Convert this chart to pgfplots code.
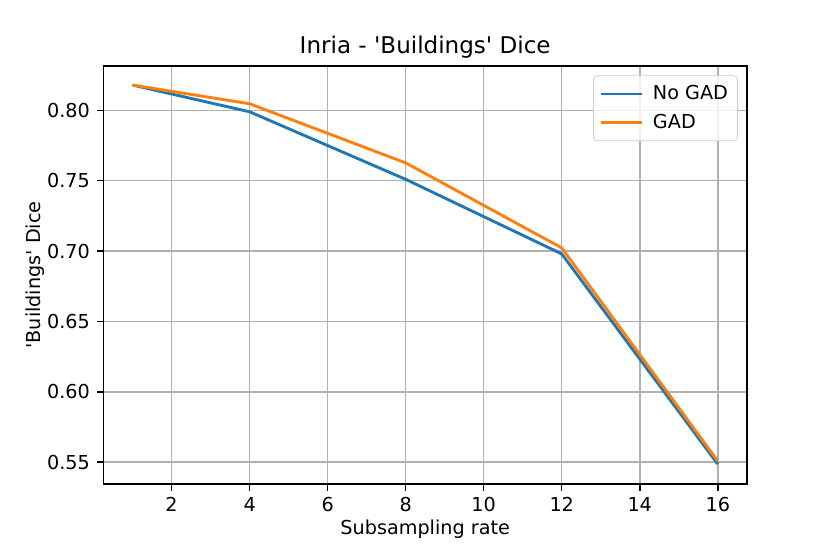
\documentclass[border=0pt]{standalone}
\usepackage{fontspec}
\setmainfont{DejaVu Sans}[Ligatures=TeXOff]
\usepackage{pgfplots}
\pgfplotsset{compat=1.18}
\definecolor{mplblue}{HTML}{1F77B4}
\definecolor{mplorange}{HTML}{FF7F0E}
\definecolor{gridgray}{HTML}{B0B0B0}
\begin{document}
\begin{tikzpicture}
\useasboundingbox (-53.8pt,-36.4pt) rectangle (378.4pt,252pt);
\begin{axis}[
  at={(0,0)}, anchor=south west,
  scale only axis, width=335.2pt, height=217.6pt,
  xmin=0.25, xmax=16.75, ymin=0.5345, ymax=0.8315,
  xtick={2,4,...,16},
  ytick={0.55,0.60,...,0.801},
  yticklabel style={/pgf/number format/fixed,/pgf/number format/fixed zerofill,/pgf/number format/precision=2},
  /pgf/number format/assume math mode=true,
  tick label style={font=\fontsize{10}{12}\selectfont},
  label style={font=\fontsize{10}{12}\selectfont},
  tick align=outside, tick pos=left,
  major tick length=3.5pt,
  every tick/.style={black, line width=0.8pt},
  axis line style={line width=0.8pt},
  grid=major,
  major grid style={gridgray, line width=0.8pt},
  title={Inria - 'Buildings' Dice},
  title style={font=\fontsize{12}{14}\selectfont, at={(0.5,1)}, anchor=south, yshift=-5.5pt},
  xlabel={Subsampling rate},
  ylabel={'Buildings' Dice},
  xlabel style={at={(0.5,0)}, anchor=north, yshift=-15pt},
  ylabel style={at={(0,0.5)}, anchor=south, yshift=27pt},
  legend style={at={(1,1)}, anchor=north east, xshift=-4.7pt, yshift=-4.9pt,
    draw=black!20, fill=white, fill opacity=0.8, text opacity=1,
    rounded corners=2pt, font=\fontsize{10}{12}\selectfont,
    row sep=2pt, inner sep=3pt},
  legend cell align=left,
  legend image code/.code={\draw[#1, line width=1.5pt] (0pt,0pt) -- (21.6pt,0pt); \path (24.5pt,0pt);},
]
\addplot[mplblue, line width=1.5pt] coordinates {(1,0.818) (4,0.799) (8,0.751) (12,0.698) (16,0.5486)};
\addlegendentry{No GAD}
\addplot[mplorange, line width=1.5pt] coordinates {(1,0.818) (4,0.8047) (8,0.7627) (12,0.7023) (16,0.5507)};
\addlegendentry{GAD}
\end{axis}
\end{tikzpicture}
\end{document}
